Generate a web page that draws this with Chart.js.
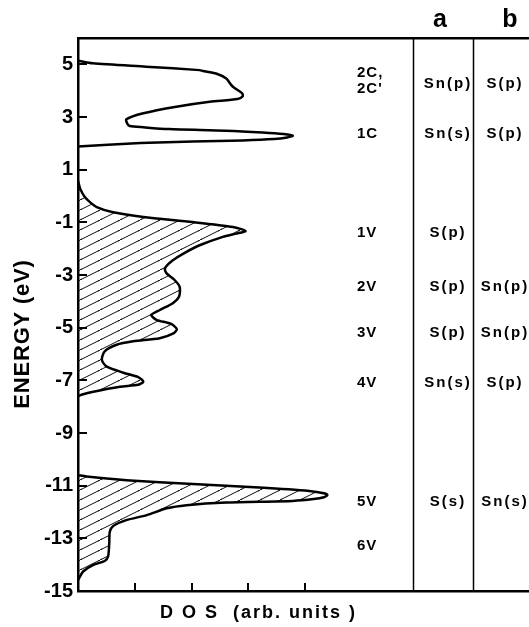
<!DOCTYPE html>
<html><head><meta charset="utf-8">
<script src="https://cdn.jsdelivr.net/npm/chart.js@4.4.1/dist/chart.umd.min.js"></script>
<style>html,body{margin:0;padding:0;background:#fff;}</style>
</head><body>
<canvas id="c" width="529" height="627"></canvas>
<script>
// ---- data ----
const yTickValues = [5, 3, 1, -1, -3, -5, -7, -9, -11, -13, -15];
const xTickValues = [1, 2, 3, 4];

// conduction band (no hatching)
const condEnergy = [5.14, 5.04, 4.91, 4.78, 4.75, 4.65, 4.46, 4.21, 4.11, 3.90, 3.79, 3.68, 3.58, 3.39, 3.14, 2.91, 2.74, 2.66, 2.61, 2.54, 2.48, 2.41, 2.35, 2.29, 2.22, 2.16, 2.11, 2.07, 2.01, 1.94, 1.88];
const condDos    = [0.00, 0.26, 1.20, 2.14, 2.20, 2.43, 2.61, 2.70, 2.75, 2.89, 2.90, 2.81, 2.32, 1.73, 1.15, 0.85, 0.87, 0.91, 1.15, 1.60, 2.60, 3.25, 3.62, 3.78, 3.68, 3.45, 2.90, 2.02, 1.10, 0.45, 0.00];

// upper valence band (hatched)
const valEnergy = [0.58, 0.27, -0.04, -0.25, -0.42, -0.61, -0.80, -0.99, -1.18, -1.33, -1.43, -1.55, -1.87, -2.12, -2.44, -2.75, -2.94, -3.19, -3.45, -3.82, -4.07, -4.33, -4.52, -4.70, -4.86, -5.06, -5.23, -5.40, -5.52, -5.65, -5.90, -6.22, -6.47, -6.71, -6.88, -7.05, -7.17, -7.24, -7.43, -7.55, -7.61];
const valDos    = [0.00, 0.04, 0.12, 0.22, 0.33, 0.60, 1.15, 2.02, 2.73, 2.95, 2.78, 2.55, 2.14, 1.91, 1.67, 1.53, 1.56, 1.70, 1.79, 1.78, 1.67, 1.44, 1.29, 1.38, 1.64, 1.74, 1.67, 1.44, 0.97, 0.68, 0.47, 0.42, 0.50, 0.80, 1.06, 1.15, 1.06, 0.74, 0.27, 0.06, 0.00];

// lower valence band (hatched)
const lowEnergy = [-10.60, -10.65, -10.79, -10.94, -11.07, -11.20, -11.29, -11.36, -11.44, -11.51, -11.58, -11.64, -11.74, -11.86, -12.12, -12.31, -12.53, -12.75, -13.19, -13.69, -13.86, -14.01, -14.26, -14.51, -14.58];
const lowDos    = [0.00, 0.15, 0.85, 2.02, 3.19, 4.07, 4.33, 4.39, 4.33, 4.15, 3.78, 2.61, 1.91, 1.56, 1.21, 0.85, 0.62, 0.56, 0.55, 0.53, 0.47, 0.27, 0.09, 0.02, 0.00];

// state labels and table
const stateLabels = ['2C,', "2C'", '1C', '1V', '2V', '3V', '4V', '5V', '6V'];
const stateEnergy = [4.66, 4.08, 2.35, -1.41, -3.46, -5.20, -7.10, -11.62, -13.29];
const columnHeaders = ['a', 'b'];
const rowEnergy = [4.25, 2.35, -1.41, -3.46, -5.20, -7.10, -11.62];
const columnA = ['Sn(p)', 'Sn(s)', 'S(p)', 'S(p)', 'S(p)', 'Sn(s)', 'S(s)'];
const columnB = ['S(p)', 'S(p)', '', 'Sn(p)', 'Sn(p)', 'S(p)', 'Sn(s)'];

// ---- drawing ----
const canvas = document.getElementById('c');
const ctx = canvas.getContext('2d');

function makeHatch() {
  const t = document.createElement('canvas');
  t.width = 20; t.height = 10;
  const g = t.getContext('2d');
  g.strokeStyle = '#111';
  g.lineWidth = 1;
  for (const [dx, dy] of [[0, 0], [20, -10], [-20, 10]]) {
    g.beginPath();
    g.moveTo(-2 + dx, 11 + dy);
    g.lineTo(22 + dx, -1 + dy);
    g.stroke();
  }
  return ctx.createPattern(t, 'repeat');
}
const hatch = makeHatch();

const pts = (E, D) => E.map((e, i) => ({ x: D[i], y: e }));

const FONT = '"Liberation Sans", Arial, sans-serif';

const decor = {
  id: 'decor',
  afterDraw(chart) {
    const c = chart.ctx;
    const xs = chart.scales.x, ys = chart.scales.y;
    const a = chart.chartArea;
    c.save();
    c.strokeStyle = '#000';
    // inward tick marks
    c.lineWidth = 2;
    ys.ticks.forEach(t => {
      const py = Math.round(ys.getPixelForValue(t.value));
      c.beginPath(); c.moveTo(a.left, py); c.lineTo(a.left + 9, py); c.stroke();
    });
    xs.ticks.forEach(t => {
      const px = Math.round(xs.getPixelForValue(t.value));
      c.beginPath(); c.moveTo(px, a.bottom); c.lineTo(px, a.bottom - 8); c.stroke();
    });
    // table column separators
    c.lineWidth = 1.5;
    [413.5, 473.5].forEach(px => {
      c.beginPath(); c.moveTo(px, a.top); c.lineTo(px, a.bottom); c.stroke();
    });
    c.fillStyle = '#000';
    // headers
    c.font = 'bold 25px ' + FONT;
    c.textAlign = 'center'; c.textBaseline = 'alphabetic';
    c.fillText(columnHeaders[0], 440, 27);
    c.fillText(columnHeaders[1], 510, 27);
    // state labels
    c.font = 'bold 15px ' + FONT;
    c.letterSpacing = '1px';
    c.textBaseline = 'middle';
    c.textAlign = 'left';
    stateLabels.forEach((s, i) => c.fillText(s, 357, ys.getPixelForValue(stateEnergy[i])));
    c.font = 'bold 15px ' + FONT;
    c.letterSpacing = '2px';
    c.textAlign = 'center';
    rowEnergy.forEach((e, i) => {
      const py = ys.getPixelForValue(e);
      if (columnA[i]) c.fillText(columnA[i], 448, py);
      if (columnB[i]) c.fillText(columnB[i], 505, py);
    });
    // axis titles
    c.font = 'bold 18px ' + FONT;
    c.letterSpacing = '2px';
    c.textAlign = 'left'; c.textBaseline = 'alphabetic';
    c.fillText('D O S', 160, 618);
    c.fillText('(arb. units )', 233, 618);
    c.save();
    c.translate(29, 334);
    c.rotate(-Math.PI / 2);
    c.font = 'bold 22px ' + FONT;
    c.letterSpacing = '0.8px';
    c.textAlign = 'center';
    c.fillText('ENERGY (eV)', 0, 0);
    c.restore();
    c.restore();
  }
};

const lineStyle = { borderColor: '#000', borderWidth: 2.5, pointRadius: 0, tension: 0.25 };

new Chart(canvas, {
  type: 'line',
  data: {
    datasets: [
      Object.assign({ data: pts(condEnergy, condDos), fill: false }, lineStyle),
      Object.assign({ data: pts(valEnergy, valDos), fill: 'origin', backgroundColor: hatch }, lineStyle),
      Object.assign({ data: pts(lowEnergy, lowDos), fill: 'origin', backgroundColor: hatch }, lineStyle)
    ]
  },
  options: {
    indexAxis: 'y',
    responsive: false,
    animation: false,
    devicePixelRatio: 1,
    layout: { padding: 0 },
    plugins: { legend: { display: false }, tooltip: { enabled: false } },
    scales: {
      x: {
        type: 'linear', position: 'bottom', min: 0, max: 7.94,
        ticks: { display: false },
        grid: { display: false, drawTicks: false },
        border: { display: true, color: '#000', width: 2.5 },
        afterBuildTicks: s => { s.ticks = xTickValues.map(v => ({ value: v })); },
        afterFit: s => { s.height = 36; }
      },
      xTop: {
        type: 'linear', axis: 'x', position: 'top', min: 0, max: 7.94,
        ticks: { display: false },
        grid: { display: false, drawTicks: false },
        border: { display: true, color: '#000', width: 2.5 },
        afterFit: s => { s.height = 38; }
      },
      y: {
        type: 'linear', min: -15, max: 6,
        ticks: { color: '#000', padding: 5, autoSkip: false, font: { family: FONT, size: 20, weight: 'bold' } },
        grid: { display: false, drawTicks: false },
        border: { display: true, color: '#000', width: 2.5 },
        afterBuildTicks: s => { s.ticks = yTickValues.map(v => ({ value: v })); },
        afterFit: s => { s.width = 78; }
      }
    }
  },
  plugins: [decor]
});
</script>
</body></html>
